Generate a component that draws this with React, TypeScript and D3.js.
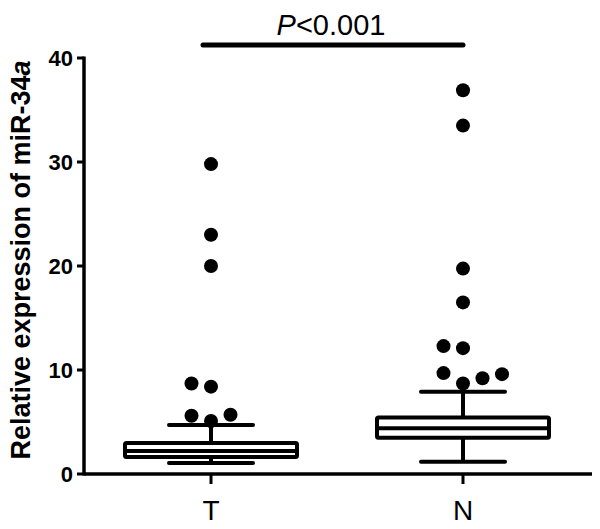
import React from "react";
import * as d3 from "d3";

const categories = ["T", "N"];
const q1 = [1.63, 3.48];
const median = [2.2, 4.4];
const q3 = [2.97, 5.44];
const whiskerLow = [1.05, 1.18];
const whiskerHigh = [4.7, 7.9];
const outliersT = [29.8, 23.0, 20.0, 5.1, 5.6, 5.7, 8.4, 8.7];
const outliersN = [36.9, 33.5, 19.75, 16.5, 12.1, 12.3, 8.7, 9.7, 9.2, 9.6];
const yTicks = [0, 10, 20, 30, 40];

const W = 600;
const H = 529;
const FONT = "'Liberation Sans', Arial, sans-serif";

export default function App() {
  const y = d3.scaleLinear().domain([0, 40]).range([474, 58]);
  const x = d3.scalePoint<string>().domain(categories).range([211, 463]);
  const boxHalf = 86;
  const capHalf = 42;
  const r = 7;
  const step = 19.5;
  const sw = 4;

  const dodge = (vals: number[], cx: number) => {
    const placed: { x: number; y: number }[] = [];
    const order = [0, -1, 1, 2, -2, 3, -3];
    vals.forEach((v) => {
      const py = y(v);
      for (const o of order) {
        const px = cx + o * step;
        const hit = placed.some((p) => Math.hypot(p.x - px, p.y - py) < 2 * r - 0.5);
        if (!hit) {
          placed.push({ x: px, y: py });
          break;
        }
      }
    });
    return placed;
  };

  const outliers = [outliersT, outliersN];

  return (
    <svg
      width={W}
      height={H}
      style={{ position: "absolute", left: 0, top: 0, background: "#fff" }}
      fontFamily={FONT}
    >
      <rect x={0} y={0} width={W} height={H} fill="#fff" />
      {/* Y axis */}
      <line x1={84} x2={84} y1={y(40) - 1.5} y2={y(0) + 1.5} stroke="#000" strokeWidth={3.5} />
      {yTicks.map((t) => (
        <g key={t}>
          <line x1={77} x2={84} y1={y(t)} y2={y(t)} stroke="#000" strokeWidth={3} />
          <text
            x={73}
            y={y(t)}
            dy="0.36em"
            textAnchor="end"
            fontSize={22}
            fontWeight="bold"
          >
            {t}
          </text>
        </g>
      ))}
      {/* X axis */}
      <line x1={84} x2={592} y1={y(0)} y2={y(0)} stroke="#000" strokeWidth={3.5} />
      {categories.map((c) => (
        <g key={c}>
          <line x1={x(c)} x2={x(c)} y1={y(0)} y2={y(0) + 10} stroke="#000" strokeWidth={3} />
          <text x={x(c)} y={520} textAnchor="middle" fontSize={28}>
            {c}
          </text>
        </g>
      ))}
      {/* Y label */}
      <text
        transform={`translate(30, 260) rotate(-90)`}
        textAnchor="middle"
        fontSize={27}
        fontWeight="bold"
      >
        Relative expression of miR-34
        <tspan fontStyle="italic">a</tspan>
      </text>
      {/* Boxes */}
      {categories.map((c, i) => {
        const cx = x(c)!;
        return (
          <g key={c} stroke="#000" strokeWidth={sw} strokeLinejoin="round">
            <line x1={cx} x2={cx} y1={y(q3[i])} y2={y(whiskerHigh[i])} />
            <line x1={cx} x2={cx} y1={y(q1[i])} y2={y(whiskerLow[i])} />
            <line x1={cx - capHalf} x2={cx + capHalf} y1={y(whiskerHigh[i])} y2={y(whiskerHigh[i])} strokeLinecap="round" />
            <line x1={cx - capHalf} x2={cx + capHalf} y1={y(whiskerLow[i])} y2={y(whiskerLow[i])} strokeLinecap="round" />
            <rect
              x={cx - boxHalf}
              y={y(q3[i])}
              width={2 * boxHalf}
              height={y(q1[i]) - y(q3[i])}
              fill="#fff"
              rx={1.5}
            />
            <line x1={cx - boxHalf} x2={cx + boxHalf} y1={y(median[i])} y2={y(median[i])} />
          </g>
        );
      })}
      {/* Outliers */}
      {categories.map((c, i) =>
        dodge(outliers[i], x(c)!).map((p, j) => (
          <circle key={c + j} cx={p.x} cy={p.y} r={r} fill="#000" />
        ))
      )}
      {/* Significance */}
      <line x1={203} x2={463} y1={45} y2={45} stroke="#000" strokeWidth={5} strokeLinecap="round" />
      <text x={331} y={35} textAnchor="middle" fontSize={29}>
        <tspan fontStyle="italic">P</tspan>&lt;0.001
      </text>
    </svg>
  );
}
